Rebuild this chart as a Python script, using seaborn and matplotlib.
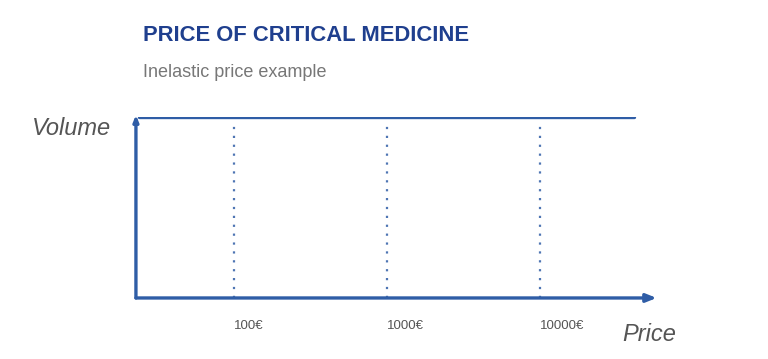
import numpy as np
import matplotlib.pyplot as plt
import pandas as pd
import seaborn as sns

sns.set_theme(style='white')
plt.rcParams['font.family'] = ['Liberation Sans', 'DejaVu Sans']

# price levels (log scale) and the flat demand volume
price_ticks = [100, 1000, 10000]
price_labels = ['100€', '1000€', '10000€']
demand_price = [24, 100, 1000, 10000, 41000]
demand_volume = [1, 1, 1, 1, 1]

blue = '#2f5da6'
navy = '#1f3f8e'

df = pd.DataFrame({'price': demand_price, 'volume': demand_volume})

fig = plt.figure(figsize=(7.68, 3.59), dpi=100)
ax = fig.add_axes([0.177, 0.170, 0.678, 0.505])

sns.lineplot(data=df, x='price', y='volume', color=blue, lw=2.4, ax=ax)
for p, lab in zip(price_ticks, price_labels):
    ax.plot([p, p], [0, 0.975], color=blue, lw=1.6, alpha=0.85, ls=(0, (1, 3.0)))
    ax.annotate(lab, (p, 0), xytext=(0, -20),
                textcoords='offset points', ha='left', va='center',
                fontsize=9.5, color='#555555')

ax.set_xscale('log')
ax.set_xlim(23, 58000)
ax.set_ylim(0, 1.0)
for s in ax.spines.values():
    s.set_visible(False)
ax.set_xticks([])
ax.set_yticks([])
ax.set_xlabel('')
ax.set_ylabel('')

# axis arrows
ax.annotate('', xy=(1.0, 0), xytext=(0, 0), xycoords='axes fraction',
            arrowprops=dict(arrowstyle='-|>,head_length=0.5,head_width=0.2',
                            color=blue, lw=2.4, shrinkA=0, shrinkB=0))
ax.annotate('', xy=(0, 1.01), xytext=(0, 0), xycoords='axes fraction',
            arrowprops=dict(arrowstyle='-|>,head_length=0.3,head_width=0.12',
                            color=blue, lw=2.4, shrinkA=0, shrinkB=0))

fig.text(0.041, 0.643, 'Volume', fontsize=17, style='italic', color='#555555',
         va='center', ha='left')
fig.text(0.810, 0.068, 'Price', fontsize=17, style='italic', color='#555555',
         va='center', ha='left')

fig.text(0.186, 0.902, 'PRICE OF CRITICAL MEDICINE', fontsize=15.8,
         fontweight='bold', color=navy, va='center', ha='left')
fig.text(0.186, 0.798, 'Inelastic price example', fontsize=13,
         color='#777777', va='center', ha='left')

fig.savefig('out.png', dpi=100)
